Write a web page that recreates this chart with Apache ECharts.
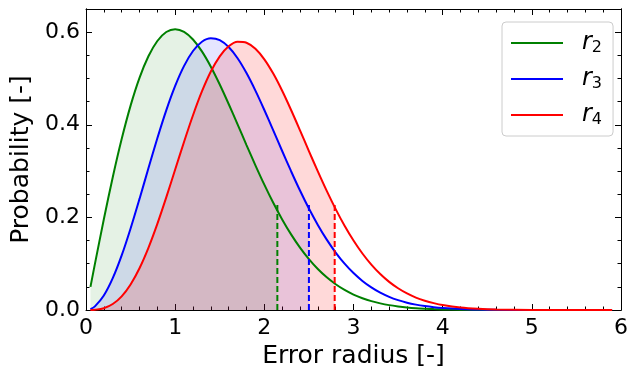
<!DOCTYPE html>
<html>
<head>
<meta charset="utf-8">
<script src="https://cdn.jsdelivr.net/npm/echarts@6/dist/echarts.min.js"></script>
<style>html,body{margin:0;padding:0;background:#fff}#c{width:631px;height:374px}</style>
</head>
<body>
<div id="c"></div>
<script>
// x positions of the sampled curve points
const xs = [0.05,0.1,0.2,0.3,0.4,0.5,0.6,0.7,0.8,0.9,1.0,1.1,1.2,1.3,1.4,1.5,1.6,1.7,1.8,1.9,2.0,2.1,2.2,2.3,2.4,2.5,2.6,2.7,2.8,2.9,3.0,3.1,3.2,3.3,3.4,3.5,3.6,3.7,3.8,3.9,4.0,4.2,4.4,4.6,5.0,5.5,5.9];
// probability values
const r2 = [0.0499,0.0995,0.1960,0.2868,0.3692,0.4413,0.5012,0.5479,0.5809,0.6003,0.6065,0.6007,0.5841,0.5584,0.5254,0.4870,0.4449,0.4008,0.3562,0.3125,0.2707,0.2315,0.1956,0.1633,0.1347,0.1099,0.0885,0.0705,0.0556,0.0433,0.0333,0.0254,0.0191,0.0143,0.0105,0.0077,0.0055,0.0039,0.0028,0.0019,0.0013,0.0006,0.0003,0.0001,0.0000,0,0];
const r3 = [0.0020,0.0079,0.0313,0.0687,0.1178,0.1760,0.2399,0.3060,0.3708,0.4311,0.4839,0.5272,0.5593,0.5793,0.5869,0.5828,0.5679,0.5436,0.5116,0.4737,0.4319,0.3879,0.3434,0.2997,0.2580,0.2191,0.1837,0.1519,0.1241,0.1001,0.0798,0.0628,0.0489,0.0375,0.0285,0.0214,0.0158,0.0116,0.0084,0.0060,0.0043,0.0021,0.0010,0.0004,0.0001,0,0];
const r4 = [0.0001,0.0005,0.0039,0.0129,0.0295,0.0552,0.0902,0.1342,0.1859,0.2431,0.3033,0.3634,0.4206,0.4719,0.5149,0.5478,0.5694,0.5791,0.5771,0.5640,0.5413,0.5105,0.4734,0.4319,0.3880,0.3433,0.2992,0.2571,0.2178,0.1819,0.1500,0.1220,0.0980,0.0776,0.0607,0.0469,0.0357,0.0268,0.0201,0.0148,0.0107,0.0055,0.0027,0.0012,0.0002,0,0];
const names = ['r2','r3','r4'];
const subs = ['2','3','4'];
// dashed threshold positions and the curve values there
const quant = [2.146, 2.5, 2.789];
const quantVal = [0.2146, 0.2191, 0.2218];
const dashTop = 0.233;

const colors = ['#008000','#0000ff','#ff0000'];
const fillOpacity = [0.1, 0.1, 0.15];
const ys = [r2, r3, r4];
const FONT = 'DejaVu Sans';
const SMOOTH = 0.3;

const series = [];
ys.forEach((arr, i) => {
  const area = [];
  xs.forEach((x, j) => { if (x < quant[i]) area.push([x, arr[j]]); });
  area.push([quant[i], quantVal[i]]);
  series.push({
    name: names[i] + '_fill', type: 'line', data: area, smooth: SMOOTH, symbol: 'none',
    lineStyle: { width: 0, opacity: 0 }, areaStyle: { color: colors[i], opacity: fillOpacity[i], origin: 'start' },
    silent: true, z: 1
  });
});
ys.forEach((arr, i) => {
  series.push({
    name: names[i], type: 'line', data: xs.map((x, j) => [x, arr[j]]), smooth: SMOOTH, symbol: 'none',
    color: colors[i], lineStyle: { color: colors[i], width: 2 }, z: 3
  });
});
quant.forEach((q, i) => {
  series.push({
    name: names[i] + '_q', type: 'line', data: [[q, 0], [q, dashTop]], symbol: 'none',
    lineStyle: { color: colors[i], width: 2, type: [6, 3] }, z: 4, silent: true
  });
});

const axLine = { show: true, onZero: false, lineStyle: { color: '#000', width: 1 } };
const tickStyle = { color: '#000', width: 1 };

const option = {
  animation: false,
  backgroundColor: '#fff',
  grid: { left: 86, right: 7, top: 9, bottom: 64 },
  legend: {
    data: names,
    left: 502, top: 22,
    orient: 'vertical',
    icon: 'rect', itemWidth: 52, itemHeight: 2, itemGap: 11,
    backgroundColor: 'rgba(255,255,255,0.8)',
    borderColor: '#cccccc', borderWidth: 1, borderRadius: 4,
    padding: [9, 11, 8, 9],
    formatter: n => '{i|r}{s|' + subs[names.indexOf(n)] + '}',
    textStyle: {
      color: '#000',
      rich: {
        i: { fontFamily: FONT, fontStyle: 'italic', fontSize: 24, lineHeight: 26, padding: [0, 0, 0, 14] },
        s: { fontFamily: FONT, fontSize: 16, lineHeight: 26, verticalAlign: 'bottom', padding: [8, 0, 0, 0] }
      }
    }
  },
  xAxis: [
    {
      type: 'value', min: 0, max: 6, interval: 1, position: 'bottom',
      axisLine: axLine,
      axisTick: { show: true, inside: true, length: 6, lineStyle: tickStyle },
      minorTick: { show: true, splitNumber: 5, length: 3.5, lineStyle: tickStyle },
      splitLine: { show: false },
      axisLabel: { color: '#000', fontSize: 22, fontFamily: FONT, margin: 7 },
      name: 'Error radius [-]', nameLocation: 'middle', nameGap: 32,
      nameTextStyle: { color: '#000', fontSize: 25, fontFamily: FONT }
    },
    {
      type: 'value', min: 0, max: 6, interval: 1, position: 'top',
      axisLine: axLine,
      axisTick: { show: true, inside: true, length: 6, lineStyle: tickStyle },
      minorTick: { show: true, splitNumber: 5, length: 3.5, lineStyle: tickStyle },
      splitLine: { show: false }, axisLabel: { show: false }
    }
  ],
  yAxis: [
    {
      type: 'value', min: 0, max: 0.65, interval: 0.2, position: 'left',
      axisLine: axLine,
      axisTick: { show: true, inside: true, length: 6, lineStyle: tickStyle },
      splitLine: { show: false },
      axisLabel: { color: '#000', fontSize: 22, fontFamily: FONT, margin: 6, showMaxLabel: false, formatter: v => v.toFixed(1) },
      name: 'Probability [-]', nameLocation: 'middle', nameGap: 48, nameRotate: 90,
      nameTextStyle: { color: '#000', fontSize: 25, fontFamily: FONT }
    },
    {
      type: 'value', min: 0, max: 0.65, interval: 0.2, position: 'right',
      axisLine: axLine,
      axisTick: { show: true, inside: true, length: 6, lineStyle: tickStyle },
      splitLine: { show: false }, axisLabel: { show: false }
    },
    {
      type: 'value', min: 0, max: 0.65, interval: 0.05, position: 'left',
      axisLine: axLine,
      axisTick: { show: true, inside: true, length: 3.5, lineStyle: tickStyle },
      splitLine: { show: false }, axisLabel: { show: false }
    },
    {
      type: 'value', min: 0, max: 0.65, interval: 0.05, position: 'right',
      axisLine: axLine,
      axisTick: { show: true, inside: true, length: 3.5, lineStyle: tickStyle },
      splitLine: { show: false }, axisLabel: { show: false }
    }
  ],
  series: series
};
const chart = echarts.init(document.getElementById('c'), null, { renderer: 'canvas' });
chart.setOption(option);
</script>
</body>
</html>
